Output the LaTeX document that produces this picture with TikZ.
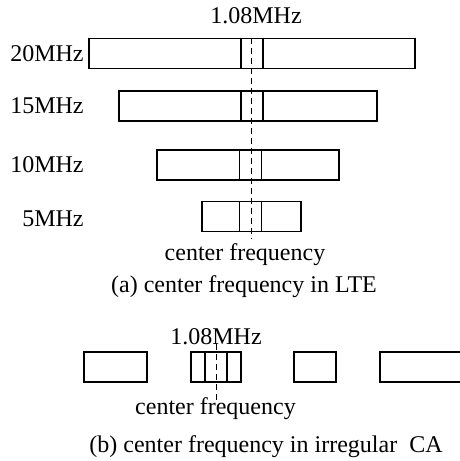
\documentclass[tikz,border=0pt]{standalone}
\usepackage{fontspec}
\setmainfont{Liberation Serif}
\usetikzlibrary{positioning}
\tikzset{
	band/.style = {draw, rectangle, line width = .75pt, inner sep = 0pt, minimum height = 15pt},
	core/.style = {band, minimum width = 11pt},
	lbl/.style = {inner sep = 0pt, font = \fontsize{12}{14}\selectfont},
	centre/.style = {line width = .5pt, dash pattern = on 3pt off 2pt}
}
\begin{document}
\begin{tikzpicture}[x = .5pt, y = -.5pt]
\useasboundingbox (0 ,0) rectangle (460 ,461);
\clip (0 ,0) rectangle (460 ,461);
% (a) LTE bandwidths
\foreach \n/\cx/\cy/\w/\kx/\ly/\lab in {a/252/53.5/326/252/61.7/20MHz, b/248/106/258/252/113.3/15MHz, c/248/165/182/250.5/172.7/10MHz, d/251.5/216.5/99/250.5/226.7/5MHz}{
	\node [band, minimum width = \w*.5pt] (bw\n) at (\cx ,\cy) {};
	\node [core] (core\n) at (\kx ,\cy) {};
	\node [lbl, anchor = base east] (lab\n) at (84 ,\ly) {\lab};
}
\node [lbl, anchor = base] (rba) at (256 ,23.5) {1.08MHz};
\coordinate (fbota) at (251 ,238);
\draw [centre] (fbota |- corea.north) -- (fbota);
\node [lbl, anchor = base] (cfa) at (245 ,260) {center frequency};
\node [lbl, anchor = base] (capa) at (244 ,292.5) {(a) center frequency in LTE};
% (b) irregular CA
\foreach \n/\cx/\w in {1/115.5/63, 2/216/50, 3/315/42, 4/430/100}{
	\node [band, minimum width = \w*.5pt] (cc\n) at (\cx ,367) {};
}
\node [core] (corecc) at (216 ,367) {};
\node [lbl, anchor = base] (rbb) at (216 ,344) {1.08MHz};
\coordinate (fbotb) at (216 ,400);
\draw [centre] (rbb.base) -- (fbotb);
\node [lbl, anchor = base] (cfb) at (215.5 ,414) {center frequency};
\node [lbl, anchor = base] (capb) at (266 ,452) {(b) center frequency in irregular\ \ CA};
\end{tikzpicture}
\end{document}
